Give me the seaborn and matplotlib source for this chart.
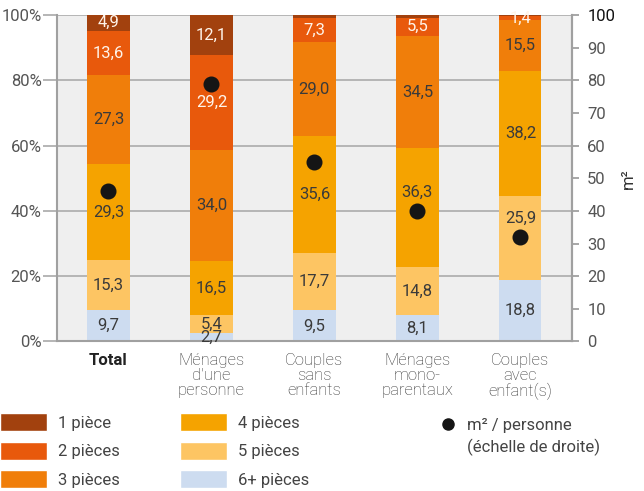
import numpy as np
import pandas as pd
import seaborn as sns
import matplotlib.pyplot as plt
from matplotlib.patches import Patch
from matplotlib.lines import Line2D

# Données (en %), du bas vers le haut de chaque barre
categories = ["Total", "Ménages\nd'une\npersonne", "Couples\nsans\nenfants",
              "Ménages\nmono-\nparentaux", "Couples\navec\nenfant(s)"]
pieces_6 = [9.7, 2.7, 9.5, 8.1, 18.8]
pieces_5 = [15.3, 5.4, 17.7, 14.8, 25.9]
pieces_4 = [29.3, 16.5, 35.6, 36.3, 38.2]
pieces_3 = [27.3, 34.0, 29.0, 34.5, 15.5]
pieces_2 = [13.6, 29.2, 7.3, 5.5, 1.4]
pieces_1 = [4.9, 12.1, 0.9, 0.8, 0.2]
m2_personne = [46, 79, 55, 40, 32]

series_names = ["6+ pièces", "5 pièces", "4 pièces", "3 pièces", "2 pièces", "1 pièce"]
series = [pieces_6, pieces_5, pieces_4, pieces_3, pieces_2, pieces_1]
colors = ["#cddcf0", "#fdc563", "#f5a300", "#f07e0a", "#e8590c", "#a2410e"]
text_colors = ["#3a3a3a", "#3a3a3a", "#3a3a3a", "#3a3a3a", "#fff4ea", "#fff4ea"]
# petits décalages d'étiquettes pour éviter les points (série, catégorie)
label_nudge = {(2, 3): 4.5, (1, 4): 6.0}

sns.set_style("white")
plt.rcParams['font.family'] = ['Roboto', 'DejaVu Sans']

fig = plt.figure(figsize=(6.44, 4.91), dpi=100)
ax = fig.add_axes([0.0885, 0.3045, 0.7995, 0.665])
ax.set_facecolor("#efefef")

# barres empilées : on dessine les cumuls du plus grand au plus petit
values = np.array(series)
cumul = np.cumsum(values, axis=0)
for k in reversed(range(len(series))):
    df = pd.DataFrame({"cat": categories, "val": cumul[k]})
    sns.barplot(data=df, x="cat", y="val", color=colors[k], saturation=1,
                width=0.41, linewidth=0, ax=ax)

# étiquettes de valeurs
for k in range(len(series)):
    bottom = cumul[k] - values[k]
    for i, v in enumerate(values[k]):
        if v >= 1:
            y = bottom[i] + v / 2 + label_nudge.get((k, i), 0)
            ax.text(i, y, f"{v:.1f}".replace(".", ","),
                    ha="center", va="center", fontsize=12,
                    color=text_colors[k])

ax.set_xlim(-0.5, 4.5)
ax.set_ylim(0, 100)
ax.set_yticks(range(0, 101, 20))
ax.set_yticklabels([f"{t}%" for t in range(0, 101, 20)])
ax.set_xlabel("")
ax.set_ylabel("")
ax.yaxis.grid(True, color="#b0b0b0", linewidth=1.3)
ax.set_axisbelow(True)
ax.tick_params(axis="y", length=10, width=1.3, color="#b0b0b0", pad=1,
               labelsize=12, labelcolor="#555555")
ax.tick_params(axis="x", length=0, pad=8, labelsize=12, labelcolor="#333333")
for lab in ax.get_xticklabels():
    lab.set_linespacing(1.0)
    lab.set_fontweight("light")
ax.get_xticklabels()[0].set_fontweight("bold")
ax.get_xticklabels()[0].set_color("#222222")
for s in ["left", "bottom", "right"]:
    ax.spines[s].set_color("#a0a0a0")
    ax.spines[s].set_linewidth(1.5)
ax.spines["top"].set_visible(False)

# m² par personne sur l'échelle de droite
ax2 = ax.twinx()
sns.pointplot(x=categories, y=m2_personne, color="#151515", markers="o",
              linestyle="none", markersize=9.5, errorbar=None, ax=ax2)
ax2.set_xlim(-0.5, 4.5)
ax2.set_ylim(0, 100)
ax2.set_yticks(range(0, 101, 10))
ax2.tick_params(axis="y", length=5, width=1.3, color="#a0a0a0", pad=6,
                labelsize=12, labelcolor="#555555")
ax2.get_yticklabels()[-1].set_color("#111111")
for s in ["left", "bottom", "top"]:
    ax2.spines[s].set_visible(False)
ax2.spines["right"].set_color("#a0a0a0")
ax2.spines["right"].set_linewidth(1.5)
ax2.set_ylabel("m²", fontsize=12, color="#333333")
ax2.yaxis.set_label_coords(1.095, 0.5)
ax2.grid(False)

# légende en trois colonnes
leg_kw = dict(loc="upper left", frameon=False, fontsize=12, borderpad=0,
              borderaxespad=0, handletextpad=0.66, labelspacing=0.62,
              labelcolor="#444444")
h1 = [Patch(facecolor=colors[k], label=series_names[k]) for k in [5, 4, 3]]
h2 = [Patch(facecolor=colors[k], label=series_names[k]) for k in [2, 1, 0]]
h3 = [Line2D([], [], marker="o", color="#151515", linestyle="none",
             markersize=8, label="m² / personne"),
      Line2D([], [], linestyle="none", label="(échelle de droite)")]
fig.legend(handles=h1, bbox_to_anchor=(0.0, 1 - 413 / 491),
           handlelength=2.8, handleheight=1.3, **leg_kw)
fig.legend(handles=h2, bbox_to_anchor=(180 / 644, 1 - 413 / 491),
           handlelength=2.8, handleheight=1.3, **leg_kw)
fig.legend(handles=h3, bbox_to_anchor=(440 / 644, 1 - 418 / 491),
           handlelength=1.0, **{**leg_kw, "labelspacing": 0.35, "handletextpad": 0.6})

fig.savefig("out.png", dpi=100)
